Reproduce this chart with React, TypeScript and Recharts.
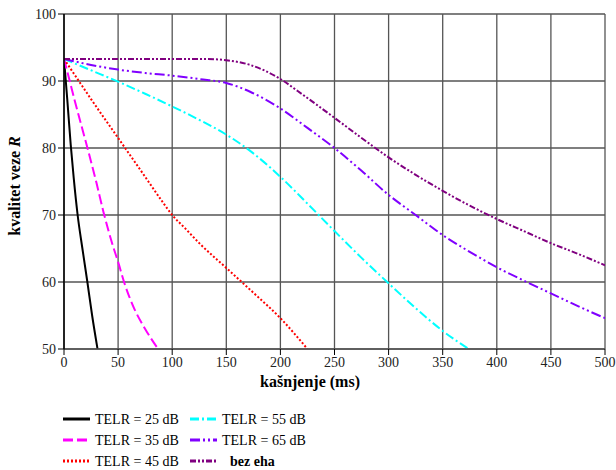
import React from 'react'
import { LineChart, Line, XAxis, YAxis, CartesianGrid } from 'recharts'

const xTicks = [0, 50, 100, 150, 200, 250, 300, 350, 400, 450, 500]
const yTicks = [50, 60, 70, 80, 90, 100]

const telr25X = [0, 3, 6.2, 9, 12.6, 17, 21.6, 26, 31]
const telr25Y = [93.3, 87.3, 80.5, 75.5, 70, 65, 60, 55, 50]

const telr35X = [0, 5, 10, 15, 22.5, 30, 36.4, 45, 50, 55.5, 65, 75, 87]
const telr35Y = [93.3, 90.2, 87, 84, 79.5, 74.8, 70.5, 65.5, 63, 60, 56, 53, 50]

const telr45X = [0, 25, 50, 75, 90, 100, 112, 125, 150, 175, 200, 225]
const telr45Y = [93.3, 87.3, 81.5, 75.7, 72.2, 70, 68, 65.8, 62.1, 58.4, 54.6, 50]

const telr55X = [0, 25, 50, 75, 100, 125, 150, 175, 200, 225, 250, 275, 300, 325, 350, 374]
const telr55Y = [93.3, 91.6, 89.9, 88.1, 86.2, 84.2, 82, 79.2, 75.7, 71.7, 67.6, 63.6, 59.8, 56.1, 52.7, 50]

const telr65X = [0, 25, 50, 75, 100, 125, 150, 172, 200, 225, 250, 275, 300, 325, 350, 375, 400, 425, 450, 475, 500]
const telr65Y = [93.3, 92.4, 91.7, 91.2, 90.8, 90.3, 89.7, 88.4, 85.9, 83, 80, 76.6, 73, 70, 67, 64.5, 62.2, 60.2, 58.3, 56.4, 54.6]

const bezEhaX = [0, 50, 100, 130, 150, 172, 200, 216, 250, 275, 300, 325, 350, 375, 400, 425, 450, 475, 500]
const bezEhaY = [93.3, 93.3, 93.3, 93.3, 93.1, 92.4, 90.3, 88.5, 84.5, 81.5, 78.6, 76, 73.6, 71.4, 69.4, 67.6, 65.8, 64.2, 62.5]

const toData = (xs: number[], ys: number[]) => xs.map((x, i) => ({ x, y: ys[i] }))

const series = [
  { name: 'TELR = 25 dB', data: toData(telr25X, telr25Y), color: '#000000', dash: undefined, bold: false },
  { name: 'TELR = 35 dB', data: toData(telr35X, telr35Y), color: '#ff00ff', dash: '10 4', bold: false },
  { name: 'TELR = 45 dB', data: toData(telr45X, telr45Y), color: '#ff0000', dash: '2 2', bold: false },
  { name: 'TELR = 55 dB', data: toData(telr55X, telr55Y), color: '#00ffff', dash: '9 3 2 3', bold: false },
  { name: 'TELR = 65 dB', data: toData(telr65X, telr65Y), color: '#8000ff', dash: '10 3 2 3 2 3', bold: false },
  { name: 'bez eha', data: toData(bezEhaX, bezEhaY), color: '#800080', dash: '6 2 2 2 2 2', bold: true },
]

const font = "'Liberation Serif', 'Times New Roman', serif"

// legend order: column 1 = first three, column 2 = last three
const legendPos = [
  { col: 0, row: 0 }, { col: 0, row: 1 }, { col: 0, row: 2 },
  { col: 1, row: 0 }, { col: 1, row: 1 }, { col: 1, row: 2 },
]

export default function App() {
  return (
    <div style={{ position: 'relative', width: 616, height: 470, fontFamily: font, overflow: 'hidden' }}>
      <style>{'body { margin: 0; }'}</style>
      <LineChart width={616} height={470} margin={{ top: 14, right: 11, left: 24, bottom: 81 }}>
        <CartesianGrid stroke="#555" strokeWidth={1.3} />
        <XAxis
          type="number"
          dataKey="x"
          domain={[0, 500]}
          ticks={xTicks}
          height={40}
          tickSize={6}
          tickLine={{ stroke: '#000' }}
          axisLine={{ stroke: '#555', strokeWidth: 1.5 }}
          tick={{ fill: '#222', fontSize: 14, fontFamily: font }}
          allowDataOverflow
        />
        <YAxis
          type="number"
          domain={[50, 100]}
          ticks={yTicks}
          width={40}
          tickSize={6}
          tickLine={{ stroke: '#000' }}
          axisLine={{ stroke: '#000', strokeWidth: 1.5 }}
          tick={{ fill: '#222', fontSize: 14, fontFamily: font }}
          allowDataOverflow
        />
        {series.map((s) => (
          <Line
            key={s.name}
            data={s.data}
            dataKey="y"
            type="monotone"
            stroke={s.color}
            strokeWidth={2}
            strokeDasharray={s.dash}
            dot={false}
            isAnimationActive={false}
          />
        ))}
      </LineChart>
      <div
        style={{
          position: 'absolute', left: 0, top: 373, width: 616, textAlign: 'center',
          fontWeight: 'bold', fontSize: 16, fontFamily: font,
        }}
      >
        <span style={{ position: 'relative', left: 2 }}>kašnjenje (ms)</span>
      </div>
      <div
        style={{
          position: 'absolute', left: 15, top: 186, width: 0, height: 0,
          fontWeight: 'bold', fontSize: 16, fontFamily: font,
        }}
      >
        <div style={{ position: 'absolute', transform: 'translate(-50%, -50%) rotate(-90deg)', whiteSpace: 'nowrap', left: 0, top: 0 }}>
          kvalitet veze <i>R</i>
        </div>
      </div>
      <svg width={616} height={70} style={{ position: 'absolute', left: 0, top: 400 }}>
        {series.map((s, i) => {
          const p = legendPos[i]
          const x0 = p.col === 0 ? 63 : 190
          const y = 19 + p.row * 21
          return (
            <g key={s.name}>
              <line x1={x0} x2={x0 + 27} y1={y} y2={y} stroke={s.color} strokeWidth={3} strokeDasharray={s.dash} />
              <text
                x={x0 + (s.bold ? 40 : 32)}
                y={y + 5}
                fontSize={14}
                fontFamily={font}
                fontWeight={s.bold ? 'bold' : 'normal'}
                fill="#000"
              >
                {s.name}
              </text>
            </g>
          )
        })}
      </svg>
    </div>
  )
}
